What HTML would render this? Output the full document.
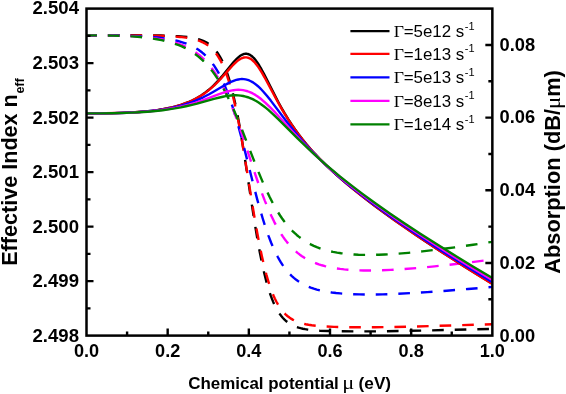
<!DOCTYPE html>
<html><head><meta charset="utf-8"><title>chart</title>
<style>
html,body{margin:0;padding:0;background:#fff;}
body{width:566px;height:394px;overflow:hidden;}
svg{display:block;will-change:transform;}
svg text{font-family:"Liberation Sans",sans-serif;font-weight:bold;fill:#000;}
svg text.reg{font-weight:normal;}
svg .ser{font-family:"Liberation Serif",serif;font-weight:normal;}
</style></head><body>
<svg width="566" height="394" viewBox="0 0 566 394">
<rect width="566" height="394" fill="#fff"/>
<g fill="none" stroke-width="2.4" stroke-dasharray="11.62 10.98" stroke-dashoffset="1.2" stroke-linejoin="round">
<path d="M86.50 35.24 L134.19 35.31 L149.41 35.42 L160.57 35.57 L169.70 35.81 L177.82 36.17 L183.90 36.63 L188.98 37.20 L192.02 37.67 L194.05 38.06 L197.09 38.77 L199.12 39.36 L201.15 40.05 L203.18 40.87 L206.23 42.38 L208.25 43.63 L209.47 44.48 L211.10 45.76 L212.31 46.84 L213.94 48.46 L215.15 49.82 L216.37 51.32 L217.59 52.98 L218.81 54.80 L220.02 56.81 L221.24 59.01 L222.46 61.43 L223.68 64.08 L224.89 66.97 L226.92 72.39 L228.95 78.61 L230.98 85.70 L233.01 93.71 L235.04 102.68 L236.66 110.54 L238.29 119.01 L239.91 128.04 L241.94 140.04 L245.19 160.58 L253.30 214.17 L255.33 226.85 L257.36 238.86 L259.80 252.19 L261.83 262.30 L263.86 271.46 L265.89 279.66 L267.10 284.13 L268.32 288.28 L269.54 292.11 L270.76 295.64 L271.97 298.89 L273.19 301.87 L274.41 304.60 L275.63 307.09 L276.84 309.36 L278.47 312.08 L279.68 313.90 L281.31 316.08 L282.93 317.98 L284.55 319.66 L286.38 321.29 L288.21 322.69 L289.83 323.78 L291.45 324.72 L293.08 325.55 L294.70 326.27 L296.53 326.97 L298.56 327.64 L300.59 328.20 L302.82 328.72 L305.25 329.19 L307.69 329.58 L310.73 329.96 L313.78 330.27 L319.86 330.70 L327.98 331.04 L339.14 331.28 L353.35 331.40 L369.58 331.39 L385.81 331.24 L422.34 330.56 L492.35 328.91" stroke="#000000"/>
<path d="M86.50 35.24 L129.11 35.35 L143.32 35.49 L155.49 35.71 L165.64 36.03 L173.76 36.45 L179.85 36.93 L185.93 37.65 L191.01 38.52 L194.05 39.22 L196.08 39.77 L198.11 40.42 L200.14 41.17 L202.17 42.05 L204.20 43.07 L206.23 44.26 L208.25 45.66 L209.88 46.94 L211.10 48.01 L212.72 49.60 L213.94 50.92 L215.36 52.64 L216.78 54.54 L218.00 56.34 L219.21 58.30 L220.43 60.45 L221.65 62.79 L222.87 65.34 L224.08 68.11 L226.11 73.26 L227.33 76.70 L228.55 80.41 L230.58 87.22 L232.61 94.87 L234.64 103.37 L236.26 110.79 L238.29 120.81 L239.91 129.39 L241.74 139.58 L245.19 160.06 L253.30 210.28 L255.33 222.21 L257.36 233.56 L259.80 246.25 L261.83 255.94 L264.06 265.62 L266.29 274.26 L267.51 278.55 L268.73 282.54 L269.94 286.25 L271.16 289.68 L272.38 292.85 L273.60 295.78 L274.81 298.48 L276.44 301.74 L277.66 303.94 L279.28 306.60 L280.90 308.96 L282.53 311.05 L284.15 312.91 L285.77 314.54 L287.40 315.99 L289.43 317.57 L291.05 318.66 L293.08 319.85 L294.70 320.68 L296.73 321.58 L298.76 322.35 L300.79 323.01 L303.22 323.69 L305.66 324.25 L308.50 324.80 L311.75 325.30 L317.83 325.98 L324.94 326.49 L334.07 326.89 L345.23 327.15 L359.43 327.28 L374.65 327.24 L389.87 327.04 L407.12 326.69 L429.44 326.11 L492.35 324.21" stroke="#ff0000"/>
<path d="M86.50 35.28 L103.75 35.34 L117.95 35.51 L130.13 35.81 L140.28 36.23 L149.41 36.81 L157.52 37.55 L164.63 38.43 L168.68 39.07 L171.73 39.62 L174.77 40.26 L177.82 40.98 L180.86 41.81 L183.90 42.77 L186.95 43.87 L188.98 44.69 L192.02 46.09 L194.05 47.14 L196.08 48.30 L198.11 49.58 L200.14 50.99 L202.17 52.55 L204.20 54.28 L206.23 56.19 L208.25 58.30 L209.47 59.67 L212.31 63.20 L213.94 65.45 L215.36 67.57 L218.00 71.89 L220.84 77.17 L223.47 82.69 L226.11 88.86 L228.95 96.25 L231.39 103.20 L233.42 109.43 L235.45 116.05 L237.68 123.73 L239.91 131.81 L244.38 148.88 L254.52 189.08 L257.36 199.83 L260.00 209.32 L262.64 218.27 L265.48 227.20 L268.32 235.36 L271.16 242.74 L272.79 246.61 L274.41 250.23 L276.03 253.60 L277.66 256.75 L279.28 259.68 L280.90 262.39 L282.53 264.91 L284.35 267.51 L286.18 269.90 L287.80 271.85 L289.83 274.08 L291.86 276.09 L293.89 277.91 L295.92 279.56 L297.95 281.04 L300.38 282.64 L302.82 284.05 L305.25 285.30 L308.09 286.58 L310.73 287.62 L313.78 288.67 L316.82 289.57 L319.86 290.35 L323.92 291.23 L327.98 291.95 L332.04 292.55 L336.10 293.04 L340.16 293.43 L344.21 293.75 L349.29 294.06 L359.43 294.42 L370.60 294.52 L382.77 294.34 L395.96 293.88 L410.17 293.16 L427.41 292.09 L446.69 290.70 L468.00 289.00 L492.35 286.92" stroke="#0000ff"/>
<path d="M86.50 35.31 L101.72 35.38 L114.91 35.58 L126.07 35.93 L135.20 36.40 L143.32 37.00 L151.44 37.84 L158.54 38.84 L162.60 39.55 L165.64 40.16 L168.68 40.85 L171.73 41.63 L174.77 42.50 L177.82 43.48 L180.86 44.59 L182.89 45.41 L185.93 46.77 L187.96 47.78 L191.01 49.44 L193.04 50.68 L195.06 52.01 L197.09 53.46 L199.12 55.03 L201.15 56.74 L203.18 58.59 L205.21 60.60 L208.25 63.92 L211.50 67.93 L214.75 72.46 L217.59 76.89 L220.43 81.78 L223.27 87.15 L226.11 93.01 L228.95 99.38 L231.39 105.22 L233.62 110.88 L236.26 117.91 L238.69 124.69 L243.56 138.94 L255.33 174.54 L258.58 183.95 L261.42 191.83 L264.67 200.35 L267.91 208.29 L271.16 215.58 L274.21 221.83 L276.03 225.30 L277.66 228.22 L279.28 230.98 L281.31 234.22 L282.93 236.65 L284.96 239.48 L286.99 242.11 L289.02 244.53 L291.05 246.77 L293.08 248.84 L295.11 250.74 L297.54 252.83 L299.57 254.42 L302.01 256.15 L304.44 257.72 L306.88 259.14 L309.72 260.62 L312.76 262.02 L315.81 263.25 L318.85 264.33 L321.89 265.28 L324.94 266.11 L327.98 266.84 L332.04 267.67 L336.10 268.36 L340.16 268.92 L344.21 269.38 L348.27 269.75 L353.35 270.09 L358.42 270.32 L363.49 270.46 L368.57 270.51 L373.64 270.48 L379.73 270.35 L390.89 269.90 L404.08 269.08 L418.28 267.92 L434.52 266.37 L451.77 264.52 L471.04 262.25 L492.35 259.58" stroke="#ff00ff"/>
<path d="M86.50 35.33 L100.70 35.40 L112.88 35.60 L123.03 35.93 L132.16 36.42 L140.28 37.04 L148.39 37.92 L155.49 38.96 L161.58 40.10 L167.67 41.53 L170.71 42.38 L173.76 43.33 L178.83 45.18 L181.87 46.46 L183.90 47.40 L186.95 48.95 L188.98 50.08 L193.04 52.61 L196.08 54.77 L198.11 56.34 L200.14 58.04 L202.17 59.86 L205.21 62.86 L208.66 66.65 L211.91 70.64 L215.15 75.08 L218.40 79.98 L221.45 85.02 L224.49 90.50 L227.53 96.42 L230.17 101.89 L232.61 107.21 L235.45 113.72 L238.29 120.52 L243.16 132.70 L255.74 165.13 L259.39 174.17 L262.64 181.86 L266.09 189.60 L269.54 196.82 L272.79 203.13 L276.23 209.28 L278.06 212.30 L280.09 215.48 L282.12 218.47 L284.15 221.27 L286.18 223.90 L288.21 226.35 L290.24 228.64 L292.27 230.78 L294.50 232.95 L296.73 234.96 L298.76 236.65 L301.19 238.52 L303.22 239.95 L305.66 241.53 L308.09 242.97 L310.73 244.38 L313.78 245.84 L316.82 247.14 L319.86 248.28 L322.91 249.30 L325.95 250.19 L330.01 251.22 L333.05 251.88 L337.11 252.62 L341.17 253.24 L345.23 253.74 L349.29 254.13 L354.36 254.50 L358.42 254.71 L363.49 254.86 L368.57 254.91 L373.64 254.88 L378.71 254.76 L384.80 254.52 L395.96 253.85 L408.14 252.84 L422.34 251.40 L437.56 249.60 L454.81 247.34 L473.07 244.74 L492.35 241.82" stroke="#008000"/>
</g>
<g fill="none" stroke-width="2.4" stroke-linejoin="round">
<path d="M86.50 113.37 L105.78 113.25 L113.89 113.10 L122.01 112.87 L129.11 112.57 L135.20 112.24 L141.29 111.80 L147.38 111.25 L153.47 110.57 L158.54 109.87 L163.61 109.04 L167.67 108.26 L172.74 107.13 L176.80 106.07 L180.86 104.85 L184.92 103.46 L188.98 101.85 L192.02 100.49 L195.06 98.97 L198.11 97.29 L201.15 95.42 L204.20 93.34 L207.24 91.03 L209.88 88.84 L211.91 87.02 L213.94 85.09 L218.00 80.87 L220.43 78.13 L222.87 75.25 L230.58 65.68 L233.62 62.05 L235.04 60.47 L236.66 58.80 L238.29 57.31 L239.51 56.32 L240.72 55.48 L241.94 54.79 L243.16 54.26 L244.38 53.92 L245.59 53.76 L246.81 53.81 L247.83 54.00 L248.84 54.34 L250.06 54.93 L251.28 55.73 L252.49 56.74 L253.91 58.15 L255.33 59.81 L256.55 61.42 L257.97 63.48 L259.39 65.73 L261.42 69.21 L264.06 74.08 L275.22 96.15 L278.26 101.95 L281.31 107.52 L284.55 113.17 L288.21 119.17 L291.45 124.20 L295.11 129.53 L298.76 134.55 L302.62 139.55 L306.67 144.52 L310.73 149.22 L314.79 153.70 L319.86 159.03 L323.92 163.10 L329.00 167.99 L335.08 173.59 L342.19 179.84 L349.29 185.83 L357.40 192.41 L365.52 198.76 L374.65 205.68 L383.79 212.41 L393.93 219.70 L404.08 226.82 L415.24 234.47 L426.40 241.97 L438.57 249.98 L450.75 257.84 L463.94 266.21 L478.15 275.08 L492.35 283.82" stroke="#000000"/>
<path d="M86.50 113.37 L105.78 113.25 L121.00 112.91 L128.10 112.62 L134.19 112.30 L140.28 111.89 L145.35 111.45 L151.44 110.82 L156.51 110.17 L161.58 109.40 L165.64 108.68 L170.71 107.63 L174.77 106.65 L178.83 105.52 L182.89 104.23 L186.95 102.75 L189.99 101.50 L193.04 100.12 L196.08 98.58 L199.12 96.88 L202.17 94.99 L205.21 92.90 L208.25 90.61 L212.31 87.19 L214.34 85.33 L216.78 82.96 L219.21 80.45 L221.65 77.82 L229.77 68.61 L232.61 65.51 L234.23 63.84 L235.85 62.30 L237.48 60.91 L238.69 59.99 L240.32 58.94 L241.53 58.31 L242.75 57.83 L243.97 57.51 L245.19 57.36 L246.40 57.39 L247.62 57.60 L248.84 57.99 L250.06 58.57 L251.28 59.34 L252.49 60.28 L254.12 61.82 L255.33 63.16 L256.96 65.18 L258.17 66.85 L259.80 69.28 L262.03 72.91 L264.67 77.53 L276.44 99.54 L279.68 105.40 L282.53 110.32 L285.77 115.71 L289.43 121.46 L293.08 126.88 L296.73 132.00 L300.59 137.10 L304.44 141.92 L308.50 146.74 L312.76 151.54 L316.82 155.90 L321.89 161.10 L325.95 165.09 L331.02 169.88 L337.11 175.40 L344.21 181.57 L351.32 187.49 L359.43 194.01 L367.55 200.31 L376.68 207.18 L385.81 213.88 L395.96 221.15 L406.11 228.25 L417.27 235.89 L428.43 243.37 L439.59 250.71 L451.77 258.58 L464.96 266.97 L478.15 275.22 L492.35 283.98" stroke="#ff0000"/>
<path d="M86.50 113.38 L101.72 113.31 L114.91 113.10 L127.09 112.71 L137.23 112.17 L146.36 111.47 L155.49 110.50 L163.61 109.35 L170.71 108.06 L174.77 107.19 L177.82 106.47 L181.87 105.39 L184.92 104.50 L188.98 103.18 L192.02 102.09 L195.06 100.91 L198.11 99.63 L203.18 97.30 L209.07 94.25 L213.94 91.51 L223.68 85.77 L227.53 83.63 L230.98 81.92 L234.23 80.59 L236.26 79.94 L238.29 79.46 L240.32 79.16 L241.94 79.06 L243.77 79.13 L245.59 79.38 L247.62 79.89 L249.25 80.48 L250.87 81.22 L252.49 82.11 L254.12 83.16 L256.15 84.68 L257.97 86.23 L259.80 87.93 L261.83 89.99 L263.86 92.21 L267.10 96.03 L270.76 100.62 L285.77 120.49 L289.83 125.71 L293.48 130.29 L297.95 135.68 L302.01 140.41 L306.47 145.40 L310.73 149.98 L314.79 154.19 L318.85 158.26 L322.91 162.20 L326.97 166.02 L331.02 169.73 L336.10 174.23 L345.23 182.01 L351.32 186.98 L358.42 192.62 L365.52 198.09 L373.64 204.18 L381.76 210.13 L389.87 215.94 L399.00 222.35 L408.14 228.63 L417.27 234.79 L426.40 240.85 L436.55 247.47 L446.69 253.99 L457.85 261.06 L469.01 268.02 L492.35 282.31" stroke="#0000ff"/>
<path d="M86.50 113.38 L99.69 113.33 L110.85 113.20 L121.00 112.97 L130.13 112.64 L138.25 112.22 L146.36 111.64 L153.47 110.98 L160.57 110.16 L168.68 108.97 L175.79 107.68 L182.89 106.13 L188.98 104.56 L195.06 102.78 L201.15 100.77 L207.24 98.59 L218.40 94.40 L222.87 92.84 L227.33 91.49 L230.98 90.61 L233.42 90.19 L235.85 89.91 L238.29 89.80 L240.72 89.88 L243.16 90.16 L245.19 90.56 L247.62 91.25 L249.85 92.08 L251.68 92.90 L253.71 93.96 L255.33 94.91 L257.36 96.24 L259.39 97.70 L261.42 99.29 L265.48 102.82 L269.94 107.12 L274.81 112.18 L279.28 117.03 L292.67 131.82 L300.59 140.29 L307.69 147.59 L314.79 154.56 L318.85 158.41 L323.92 163.08 L329.00 167.62 L334.07 172.02 L339.14 176.31 L344.21 180.48 L349.29 184.56 L355.38 189.34 L361.46 194.00 L368.57 199.32 L375.67 204.52 L382.77 209.61 L390.89 215.32 L399.00 220.92 L415.24 231.85 L432.49 243.10 L450.75 254.68 L471.04 267.22 L492.35 280.09" stroke="#ff00ff"/>
<path d="M86.50 113.39 L99.69 113.34 L111.87 113.20 L122.01 112.98 L131.14 112.65 L139.26 112.25 L147.38 111.70 L155.49 110.99 L162.60 110.20 L168.68 109.38 L174.77 108.43 L180.86 107.32 L185.93 106.27 L191.01 105.11 L197.09 103.59 L213.94 98.94 L219.62 97.47 L222.87 96.73 L225.71 96.17 L228.55 95.72 L230.98 95.44 L233.42 95.27 L235.85 95.23 L238.29 95.33 L240.72 95.57 L243.16 95.98 L245.59 96.56 L247.83 97.24 L250.06 98.07 L252.09 98.95 L254.12 99.95 L256.15 101.07 L258.58 102.57 L261.02 104.21 L263.45 106.00 L265.89 107.92 L268.32 109.94 L273.19 114.28 L278.47 119.29 L297.54 138.28 L305.66 146.19 L312.76 152.89 L319.86 159.35 L324.94 163.83 L330.01 168.19 L340.16 176.60 L345.23 180.66 L351.32 185.42 L362.48 193.87 L375.67 203.46 L389.87 213.41 L405.09 223.72 L420.31 233.72 L436.55 244.09 L453.79 254.84 L472.06 265.96 L492.35 278.06" stroke="#008000"/>
</g>
<rect x="86.5" y="8.6" width="405.85" height="327.0" fill="none" stroke="#000" stroke-width="2.5"/>
<path d="M86.50 308.35 h4.00 M86.50 281.10 h7.00 M86.50 253.85 h4.00 M86.50 226.60 h7.00 M86.50 199.35 h4.00 M86.50 172.10 h7.00 M86.50 144.85 h4.00 M86.50 117.60 h7.00 M86.50 90.35 h4.00 M86.50 63.10 h7.00 M86.50 35.85 h4.00 M127.09 335.60 v-4.00 M167.67 335.60 v-7.00 M208.26 335.60 v-4.00 M248.84 335.60 v-7.00 M289.43 335.60 v-4.00 M330.01 335.60 v-7.00 M370.60 335.60 v-4.00 M411.18 335.60 v-7.00 M451.76 335.60 v-4.00 M492.35 299.27 h-4.00 M492.35 262.93 h-7.00 M492.35 226.60 h-4.00 M492.35 190.27 h-7.00 M492.35 153.93 h-4.00 M492.35 117.60 h-7.00 M492.35 81.27 h-4.00 M492.35 44.93 h-7.00" stroke="#000" stroke-width="2.4" fill="none"/>
<text x="32.5" y="341.70" font-size="17.6" textLength="46.5" lengthAdjust="spacingAndGlyphs" >2.498</text>
<text x="32.5" y="287.20" font-size="17.6" textLength="46.5" lengthAdjust="spacingAndGlyphs" >2.499</text>
<text x="32.5" y="232.70" font-size="17.6" textLength="46.5" lengthAdjust="spacingAndGlyphs" >2.500</text>
<text x="32.5" y="178.20" font-size="17.6" textLength="46.5" lengthAdjust="spacingAndGlyphs" >2.501</text>
<text x="32.5" y="123.70" font-size="17.6" textLength="46.5" lengthAdjust="spacingAndGlyphs" >2.502</text>
<text x="32.5" y="69.20" font-size="17.6" textLength="46.5" lengthAdjust="spacingAndGlyphs" >2.503</text>
<text x="32.5" y="13.70" font-size="17.6" textLength="46.5" lengthAdjust="spacingAndGlyphs" >2.504</text>
<text x="73.90" y="357.10" font-size="17.6" textLength="25.2" lengthAdjust="spacingAndGlyphs" >0.0</text>
<text x="155.07" y="357.10" font-size="17.6" textLength="25.2" lengthAdjust="spacingAndGlyphs" >0.2</text>
<text x="236.24" y="357.10" font-size="17.6" textLength="25.2" lengthAdjust="spacingAndGlyphs" >0.4</text>
<text x="317.41" y="357.10" font-size="17.6" textLength="25.2" lengthAdjust="spacingAndGlyphs" >0.6</text>
<text x="398.58" y="357.10" font-size="17.6" textLength="25.2" lengthAdjust="spacingAndGlyphs" >0.8</text>
<text x="479.75" y="357.10" font-size="17.6" textLength="25.2" lengthAdjust="spacingAndGlyphs" >1.0</text>
<text x="499.6" y="341.50" font-size="17.6" textLength="35.6" lengthAdjust="spacingAndGlyphs" >0.00</text>
<text x="499.6" y="268.63" font-size="17.6" textLength="35.6" lengthAdjust="spacingAndGlyphs" >0.02</text>
<text x="499.6" y="196.27" font-size="17.6" textLength="35.6" lengthAdjust="spacingAndGlyphs" >0.04</text>
<text x="499.6" y="122.80" font-size="17.6" textLength="35.6" lengthAdjust="spacingAndGlyphs" >0.06</text>
<text x="499.6" y="50.63" font-size="17.6" textLength="35.6" lengthAdjust="spacingAndGlyphs" >0.08</text>
<g fill="none">
<path d="M350.4 31.10 H389.5" stroke="#000000" stroke-width="2.3"/>
<text x="393.7" y="37.20" font-size="16.9" class="reg" ><tspan class="ser" font-size="17.7">&#915;</tspan><tspan dx="-0.3">=</tspan><tspan dx="0">5e12 s</tspan><tspan font-size="11" dy="-7.6" dx="0.6">-1</tspan></text>
<path d="M350.4 53.90 H389.5" stroke="#ff0000" stroke-width="2.3"/>
<text x="393.7" y="60.00" font-size="16.9" class="reg" ><tspan class="ser" font-size="17.7">&#915;</tspan><tspan dx="-0.3">=</tspan><tspan dx="0">1e13 s</tspan><tspan font-size="11" dy="-7.6" dx="0.6">-1</tspan></text>
<path d="M350.4 77.30 H389.5" stroke="#0000ff" stroke-width="2.3"/>
<text x="393.7" y="83.40" font-size="16.9" class="reg" ><tspan class="ser" font-size="17.7">&#915;</tspan><tspan dx="-0.3">=</tspan><tspan dx="0">5e13 s</tspan><tspan font-size="11" dy="-7.6" dx="0.6">-1</tspan></text>
<path d="M350.4 100.80 H389.5" stroke="#ff00ff" stroke-width="2.3"/>
<text x="393.7" y="106.90" font-size="16.9" class="reg" ><tspan class="ser" font-size="17.7">&#915;</tspan><tspan dx="-0.3">=</tspan><tspan dx="0">8e13 s</tspan><tspan font-size="11" dy="-7.6" dx="0.6">-1</tspan></text>
<path d="M350.4 124.30 H389.5" stroke="#008000" stroke-width="2.3"/>
<text x="393.7" y="130.40" font-size="16.9" class="reg" ><tspan class="ser" font-size="17.7">&#915;</tspan><tspan dx="-0.3">=</tspan><tspan dx="0">1e14 s</tspan><tspan font-size="11" dy="-7.6" dx="0.6">-1</tspan></text>
</g>
<text transform="translate(16.6 265.8) rotate(-90)" font-size="21.3" textLength="171.6" lengthAdjust="spacingAndGlyphs">Effective Index n</text>
<text transform="translate(24.3 93.6) rotate(-90)" font-size="13.3" textLength="15.2" lengthAdjust="spacingAndGlyphs">eff</text>
<text transform="translate(560.2 273.8) rotate(-90)" font-size="21.2" textLength="203.7" lengthAdjust="spacingAndGlyphs">Absorption (dB/<tspan class="ser" font-size="22">&#956;</tspan>m)</text>
<text x="188.2" y="389" font-size="16.6" textLength="150.6" lengthAdjust="spacingAndGlyphs">Chemical potential</text>
<text x="342.3" y="389" font-size="19" class="ser" textLength="12" lengthAdjust="spacingAndGlyphs">&#956;</text>
<text x="358.6" y="389" font-size="16.6" textLength="32.5" lengthAdjust="spacingAndGlyphs">(eV)</text>
</svg>
</body></html>
